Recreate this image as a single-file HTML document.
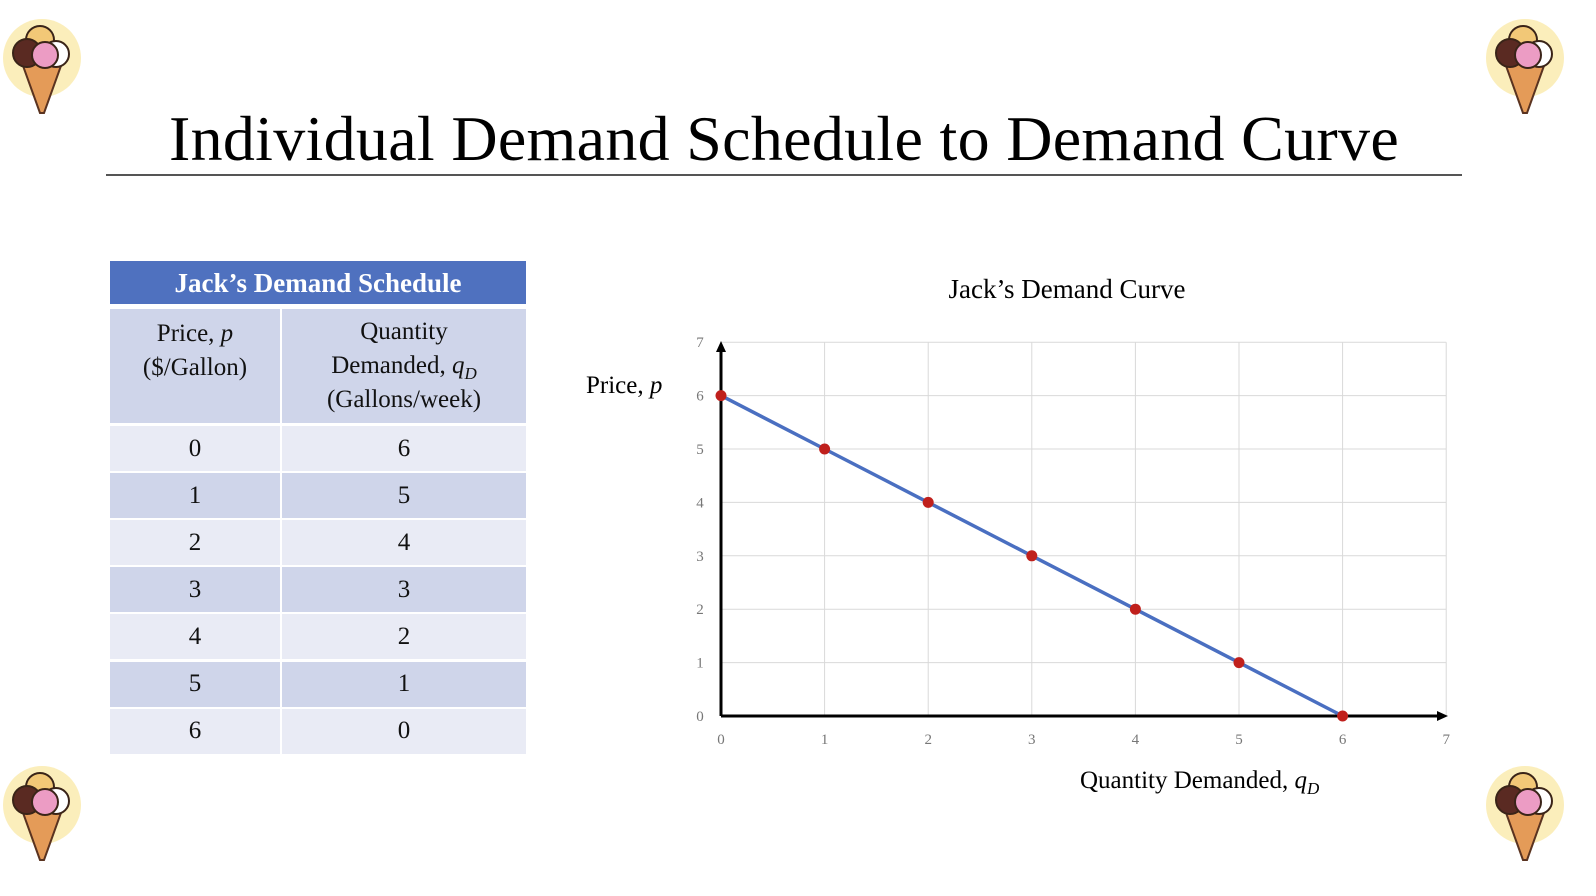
<!DOCTYPE html>
<html><head><meta charset="utf-8"><style>
body{margin:0;width:1596px;height:896px;background:#fff;position:relative;overflow:hidden;font-family:"Liberation Serif",serif;}
.abs{position:absolute;}
.cell{position:absolute;display:flex;align-items:center;justify-content:center;text-align:center;font-size:25px;color:#111;line-height:34px;}
sub{line-height:0;}
</style></head><body>
<div class="abs" style="left:0;width:1568px;top:102px;text-align:center;font-size:64px;color:#000;letter-spacing:0.3px;">Individual Demand Schedule to Demand Curve</div>
<div class="abs" style="left:106px;top:174px;width:1356px;height:2px;background:#555;"></div>

<div id="table"></div>

<svg class="abs" style="left:0;top:0" width="1596" height="896" id="chart">
<defs>
<g id="cone">
<circle cx="0" cy="0" r="39" fill="#fbeebb"/>
<path d="M-20,5 L20,5 L2,55 L-2,55Z" fill="#e49b58" stroke="#5a3320" stroke-width="2"/>
<circle cx="-2" cy="-18" r="14" fill="#f2c877" stroke="#3a2418" stroke-width="2"/>
<circle cx="-15" cy="-5" r="14" fill="#5a2a22" stroke="#3a2418" stroke-width="2"/>
<circle cx="14" cy="-4" r="13" fill="#fff" stroke="#3a2418" stroke-width="2"/>
<circle cx="3" cy="-3" r="13" fill="#ec9cc4" stroke="#3a2418" stroke-width="2"/>
</g>
</defs>
<use href="#cone" x="42" y="58"/>
<use href="#cone" x="1525" y="58"/>
<use href="#cone" x="42" y="805"/>
<use href="#cone" x="1525" y="805"/>
<text x="1067" y="298" text-anchor="middle" font-size="27" font-family="Liberation Serif, serif">Jack’s Demand Curve</text>
<text x="586" y="393" font-size="25" font-family="Liberation Serif, serif">Price, <tspan font-style="italic">p</tspan></text>
<text x="1080" y="788" font-size="25" font-family="Liberation Serif, serif">Quantity Demanded, <tspan font-style="italic">q</tspan><tspan font-style="italic" font-size="17" dy="6">D</tspan></text>
<g id="plot"></g>
</svg>

<script>
const prices=[0,1,2,3,4,5,6];
const quantities=[6,5,4,3,2,1,0];
const xTicks=[0,1,2,3,4,5,6,7];
const yTicks=[0,1,2,3,4,5,6,7];

// table
const tb=document.getElementById('table');
function mk(cls,l,t,w,h,bg,html,name){const d=document.createElement('div');d.className=cls;d.style.cssText=`left:${l}px;top:${t}px;width:${w}px;height:${h}px;background:${bg}`;d.innerHTML=html;


tb.appendChild(d);return d;}
const hd=mk('cell',110,261,416,43,'#4f71bf','Jack’s Demand Schedule','table-title');hd.style.color='#fff';hd.style.fontWeight='bold';hd.style.fontSize='27px';
mk('cell',110,309,170,114,'#cfd5ea','<div style="margin-top:-30px">Price, <i>p</i><br>($/Gallon)</div>','price-header');
mk('cell',282,309,244,114,'#cfd5ea','<div>Quantity<br>Demanded, <i>q<sub style="font-size:17px">D</sub></i><br>(Gallons/week)</div>','quantity-header');
for(let i=0;i<prices.length;i++){const t=426+i*47.1,bg=i%2?'#cfd5ea':'#e9ebf5';
mk('cell',110,t,170,45,bg,prices[i],'price-cell');
mk('cell',282,t,244,45,bg,quantities[i],'quantity-cell');}

// chart
const ns='http://www.w3.org/2000/svg',g=document.getElementById('plot');
const X=v=>721+v*103.6, Y=v=>716-v*53.4;
function el(tag,a){const e=document.createElementNS(ns,tag);for(const k in a)e.setAttribute(k,a[k]);g.appendChild(e);return e;}
xTicks.forEach(v=>{if(v>0){const l=el('line',{x1:X(v),x2:X(v),y1:Y(7),y2:Y(0),stroke:'#d9d9d9','stroke-width':1});

}
const t=el('text',{x:X(v),y:744,'text-anchor':'middle','font-size':15,fill:'#777','font-family':'Liberation Serif, serif'});t.textContent=v;

});
yTicks.forEach(v=>{if(v>0){const l=el('line',{x1:X(0),x2:X(7),y1:Y(v),y2:Y(v),stroke:'#d9d9d9','stroke-width':1});

}
const t=el('text',{x:700,y:Y(v)+5,'text-anchor':'middle','font-size':15,fill:'#777','font-family':'Liberation Serif, serif'});t.textContent=v;

});
const xa=el('path',{d:`M${X(0)},${Y(0)}H1440`,stroke:'#000','stroke-width':3});


const xh=el('path',{d:`M1448,${Y(0)} l-11,-5 v10z`,fill:'#000'});


const ya=el('path',{d:`M${X(0)},${Y(0)}V350`,stroke:'#000','stroke-width':3});


const yh=el('path',{d:`M${X(0)},341 l-5,11 h10z`,fill:'#000'});


const line=el('polyline',{points:quantities.map((q,i)=>X(q)+','+Y(prices[i])).join(' '),fill:'none',stroke:'#4a6fc1','stroke-width':3.5});


quantities.forEach((q,i)=>{const c=el('circle',{cx:X(q),cy:Y(prices[i]),r:5.5,fill:'#c0201c'});

});
</script>
</body></html>
